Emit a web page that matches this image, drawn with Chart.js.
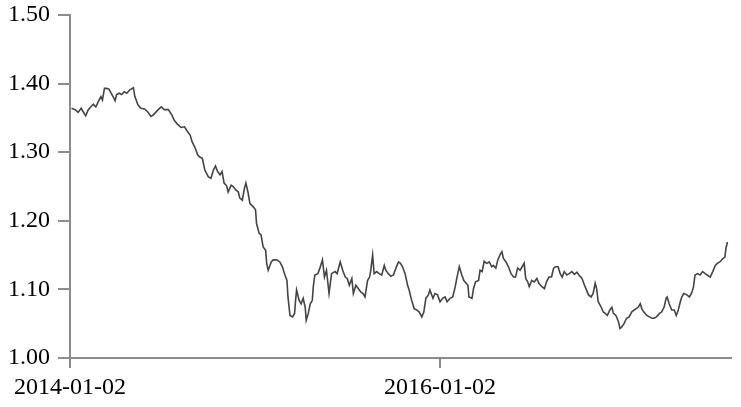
<!DOCTYPE html>
<html lang="en">
  <head>
    <meta charset="UTF-8" />
    <title>Exchange Rate 2014-2017</title>
    <script src="https://cdn.jsdelivr.net/npm/chart.js"></script>
    <style>
      body {
        margin: 0;
        background-color: #fff;
      }
      .chart-box {
        width: 741px;
        height: 407px;
      }
    </style>
  </head>
  <body>
    <div class="chart-box">
      <canvas id="rateChart"></canvas>
    </div>

    <script>
      // days counted from 2014-01-02
      const dayOffsets = [
        3, 10, 16, 22, 26, 31, 36, 41, 46, 51, 56, 61, 64, 68, 72, 77, 81, 85, 89, 92,
        97, 102, 107, 112, 118, 125, 128, 134, 140, 147, 153, 160, 164, 169, 174, 180, 186, 194, 201, 206,
        212, 219, 226, 231, 237, 241, 247, 252, 256, 261, 266, 273, 278, 283, 287, 291, 296, 300, 304, 309,
        312, 318, 322, 327, 332, 335, 340, 344, 347, 351, 355, 362, 366, 368, 373, 377, 381, 386, 388, 391,
        397, 401, 408, 414, 419, 423, 428, 430, 434, 439, 443, 445, 447, 452, 456, 460, 464, 466, 470, 474,
        478, 480, 483, 489, 493, 498, 502, 506, 511, 516, 523, 527, 533, 538, 543, 547, 551, 556, 559, 564,
        569, 574, 578, 582, 587, 591, 593, 597, 600, 605, 610, 615, 620, 623, 628, 633, 638, 643, 648, 652,
        656, 661, 666, 669, 674, 679, 684, 689, 694, 698, 702, 707, 710, 716, 720, 725, 730, 735, 740, 744,
        750, 755, 760, 763, 768, 773, 777, 785, 787, 793, 796, 800, 806, 809, 813, 817, 822, 827, 832, 835,
        840, 844, 848, 852, 855, 860, 865, 870, 875, 879, 883, 888, 892, 896, 899, 903, 906, 911, 916, 921,
        925, 931, 936, 940, 945, 950, 954, 958, 963, 967, 971, 975, 980, 985, 990, 995, 1000, 1004, 1010, 1015,
        1019, 1023, 1028, 1032, 1036, 1039, 1042, 1048, 1052, 1056, 1060, 1065, 1069, 1072, 1077, 1082, 1085, 1088, 1093, 1098,
        1103, 1108, 1113, 1117, 1121, 1125, 1128, 1132, 1138, 1143, 1148, 1152, 1157, 1163, 1167, 1172, 1176, 1178, 1182, 1187,
        1192, 1196, 1200, 1204, 1207, 1211, 1217, 1222, 1227, 1230, 1233, 1238, 1243, 1248, 1253, 1257, 1263, 1268, 1273, 1277,
        1282, 1288, 1292, 1294, 1297
      ];

      const rates = [
        1.364, 1.362, 1.358, 1.364, 1.359, 1.353, 1.362, 1.366, 1.370, 1.366, 1.374, 1.381, 1.376, 1.393, 1.393, 1.392, 1.386, 1.381, 1.375, 1.384,
        1.386, 1.384, 1.388, 1.386, 1.391, 1.394, 1.381, 1.369, 1.364, 1.363, 1.359, 1.352, 1.354, 1.358, 1.362, 1.366, 1.362, 1.362, 1.354, 1.346,
        1.341, 1.336, 1.337, 1.331, 1.325, 1.315, 1.306, 1.296, 1.293, 1.291, 1.274, 1.264, 1.262, 1.274, 1.280, 1.272, 1.267, 1.272, 1.255, 1.251,
        1.242, 1.252, 1.250, 1.245, 1.242, 1.233, 1.230, 1.247, 1.255, 1.242, 1.225, 1.220, 1.216, 1.196, 1.182, 1.179, 1.162, 1.157, 1.138, 1.128,
        1.140, 1.143, 1.143, 1.140, 1.133, 1.123, 1.113, 1.089, 1.062, 1.060, 1.065, 1.084, 1.099, 1.084, 1.079, 1.087, 1.074, 1.055, 1.065, 1.079,
        1.084, 1.104, 1.121, 1.123, 1.131, 1.143, 1.118, 1.128, 1.094, 1.123, 1.126, 1.123, 1.140, 1.128, 1.118, 1.116, 1.106, 1.116, 1.094, 1.106,
        1.101, 1.096, 1.094, 1.089, 1.113, 1.118, 1.126, 1.150, 1.123, 1.126, 1.123, 1.121, 1.135, 1.128, 1.123, 1.119, 1.121, 1.131, 1.140, 1.138,
        1.133, 1.123, 1.106, 1.099, 1.084, 1.072, 1.070, 1.067, 1.060, 1.067, 1.087, 1.092, 1.099, 1.087, 1.094, 1.092, 1.082, 1.087, 1.089, 1.082,
        1.087, 1.089, 1.104, 1.116, 1.133, 1.121, 1.113, 1.106, 1.089, 1.087, 1.101, 1.111, 1.113, 1.128, 1.126, 1.141, 1.138, 1.140, 1.133, 1.135,
        1.131, 1.143, 1.150, 1.155, 1.145, 1.140, 1.133, 1.123, 1.118, 1.118, 1.131, 1.128, 1.133, 1.138, 1.116, 1.111, 1.104, 1.113, 1.111, 1.116,
        1.109, 1.104, 1.101, 1.111, 1.118, 1.118, 1.131, 1.133, 1.133, 1.123, 1.118, 1.126, 1.121, 1.123, 1.126, 1.122, 1.125, 1.121, 1.116, 1.106,
        1.099, 1.092, 1.089, 1.094, 1.109, 1.101, 1.082, 1.074, 1.067, 1.065, 1.062, 1.070, 1.074, 1.065, 1.062, 1.053, 1.043, 1.045, 1.050, 1.058,
        1.060, 1.067, 1.070, 1.072, 1.074, 1.079, 1.072, 1.067, 1.062, 1.060, 1.058, 1.058, 1.060, 1.065, 1.067, 1.074, 1.087, 1.089, 1.079, 1.070,
        1.070, 1.062, 1.070, 1.082, 1.089, 1.094, 1.092, 1.089, 1.096, 1.104, 1.121, 1.123, 1.121, 1.126, 1.123, 1.121, 1.118, 1.126, 1.135, 1.138,
        1.140, 1.145, 1.147, 1.160, 1.169
      ];

      const tickDays = [0, 730];
      const tickLabels = ["2014-01-02", "2016-01-02"];

      const axisColor = "#8c8c8c";
      const fontSpec = { family: "'Liberation Serif', 'Times New Roman', serif", size: 24 };

      const points = dayOffsets.map((d, i) => ({ x: d, y: rates[i] }));

      new Chart(document.getElementById("rateChart"), {
        type: "line",
        data: {
          datasets: [
            {
              data: points,
              borderColor: "#444",
              borderWidth: 1.6,
              pointRadius: 0,
              tension: 0,
              fill: false,
            },
          ],
        },
        options: {
          responsive: true,
          maintainAspectRatio: false,
          animation: false,
          layout: { padding: { top: 15, right: 10, left: 0, bottom: 0 } },
          plugins: {
            legend: { display: false },
            tooltip: { enabled: false },
          },
          scales: {
            x: {
              type: "linear",
              min: 0,
              max: 1304,
              afterBuildTicks: (scale) => {
                scale.ticks = tickDays.map((v) => ({ value: v }));
              },
              afterFit: (scale) => {
                scale.height = 49;
                scale.paddingLeft = 0;
                scale.paddingRight = 0;
              },
              ticks: {
                color: "#000",
                font: fontSpec,
                padding: 5,
                maxRotation: 0,
                autoSkip: false,
                callback: (value) => tickLabels[tickDays.indexOf(value)],
              },
              grid: {
                drawOnChartArea: false,
                drawTicks: true,
                tickLength: 10,
                color: axisColor,
                lineWidth: 2,
              },
              border: { display: true, color: axisColor, width: 2 },
            },
            y: {
              min: 1.0,
              max: 1.5,
              afterFit: (scale) => {
                scale.width = 70;
                scale.paddingTop = 0;
                scale.paddingBottom = 0;
              },
              ticks: {
                stepSize: 0.1,
                color: "#000",
                font: fontSpec,
                padding: 8,
                callback: (value) => value.toFixed(2),
              },
              grid: {
                drawOnChartArea: false,
                drawTicks: true,
                tickLength: 12,
                color: axisColor,
                lineWidth: 2,
              },
              border: { display: true, color: axisColor, width: 2 },
            },
          },
        },
      });
    </script>
  </body>
</html>
